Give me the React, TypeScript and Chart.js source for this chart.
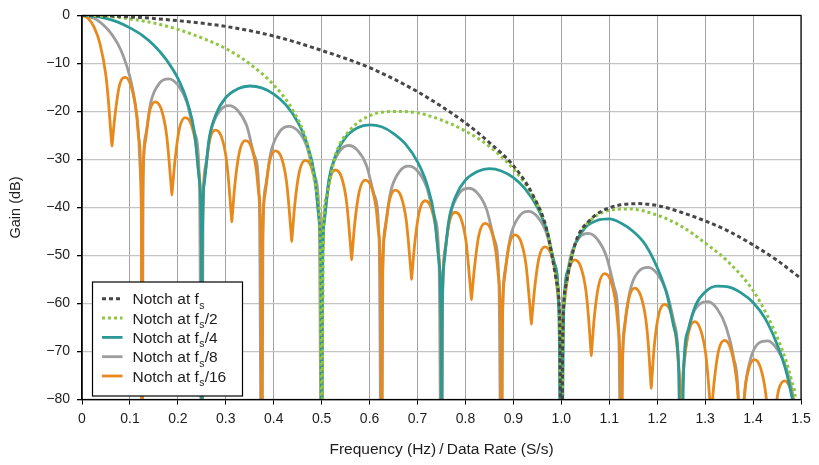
import React, { useEffect, useRef } from 'react';
import { Chart, registerables } from 'chart.js';

Chart.register(...registerables);

const FONT = '"Liberation Sans", Arial, Helvetica, sans-serif';
const TEXT = '#1e1c1d';

// Notch at fs
const fsFreq = [0, 0.1, 0.2, 0.3, 0.4, 0.5, 0.6, 0.7, 0.8, 0.85, 0.9, 0.94, 0.97, 0.99, 0.997, 1.0, 1.003, 1.01, 1.03, 1.06, 1.1, 1.16, 1.2, 1.25, 1.3, 1.35, 1.4, 1.45, 1.5];
const fsGain = [0, -0.3, -1.1, -2.3, -4.3, -7.3, -10.9, -15.9, -22.4, -26.5, -31.3, -37.3, -44.8, -55.5, -66, -110, -66.5, -56, -47.2, -42.6, -40.1, -39.2, -39.6, -41, -42.8, -45, -47.8, -51, -54.8];

// Notch at fs/2
const fs2Freq = [0, 0.05, 0.1, 0.15, 0.2, 0.25, 0.3, 0.35, 0.4, 0.44, 0.47, 0.49, 0.497, 0.5,
  0.503, 0.51, 0.53, 0.56, 0.6, 0.65, 0.7, 0.75, 0.8, 0.85, 0.9, 0.94, 0.97, 0.99, 0.997, 1.0,
  1.003, 1.01, 1.03, 1.06, 1.1, 1.14, 1.2, 1.25, 1.3, 1.35, 1.4, 1.43, 1.46, 1.48, 1.49, 1.5];
const fs2Gain = [0, -0.15, -0.75, -1.6, -2.9, -4.7, -6.9, -10.1, -14.5, -19.8, -26.7, -36.9, -47.6, -110,
  -47.8, -37.6, -28.7, -23.8, -20.9, -20.0, -20.3, -21.8, -24.1, -27.3, -32.0, -37.6, -44.7, -55.1, -65.8, -110,
  -66.1, -55.9, -47.3, -42.8, -40.6, -40.3, -41.6, -43.9, -47.4, -51.5, -57.3, -62.6, -69.5, -76.0, -82.0, -110];

// Notch at fs/4
const fs4Freq = [0, 0.025, 0.05, 0.075, 0.1, 0.125, 0.15, 0.175, 0.2, 0.22, 0.235, 0.245, 0.249, 0.25,
  0.251, 0.255, 0.265, 0.28, 0.3, 0.325, 0.35, 0.375, 0.4, 0.425, 0.45, 0.47, 0.485, 0.495, 0.499, 0.5,
  0.501, 0.505, 0.515, 0.53, 0.55, 0.575, 0.6, 0.625, 0.65, 0.675, 0.7, 0.72, 0.735, 0.745, 0.749, 0.75,
  0.751, 0.755, 0.765, 0.78, 0.8, 0.825, 0.85, 0.875, 0.9, 0.925, 0.95, 0.97, 0.985, 0.995, 1.0,
  1.005, 1.015, 1.03, 1.05, 1.075, 1.1, 1.125, 1.15, 1.175, 1.2, 1.22, 1.235, 1.245, 1.25,
  1.255, 1.265, 1.28, 1.3, 1.325, 1.35, 1.375, 1.4, 1.425, 1.45, 1.47, 1.48, 1.49, 1.5];
const fs4Gain = [0, -0.15, -0.6, -1.4, -2.6, -4.1, -6.2, -9.1, -13.1, -18.1, -24.6, -34.5, -48.7, -110,
  -48.8, -35.0, -25.8, -20.5, -17.1, -15.3, -14.7, -15.1, -16.4, -18.6, -22.2, -26.9, -33.2, -43.0, -57.0, -110,
  -57.2, -43.4, -34.3, -28.9, -25.4, -23.4, -22.8, -23.2, -24.6, -26.8, -30.5, -35.3, -41.8, -51.7, -65.8, -110,
  -66.0, -52.0, -42.9, -37.6, -34.3, -32.5, -31.9, -32.4, -33.8, -36.2, -40.0, -44.9, -51.4, -61.3, -110,
  -61.8, -52.7, -47.4, -44.2, -42.7, -42.4, -43.3, -45.0, -47.7, -52.5, -58.0, -65.0, -74.0, -110,
  -74.2, -65.4, -60.4, -57.6, -56.4, -56.6, -57.8, -59.8, -63.1, -68.5, -74.5, -79.0, -86.0, -110];

// Notch at fs/8
const fs8Freq = [0, 0.025, 0.05, 0.0625, 0.075, 0.0875, 0.1, 0.11, 0.1175, 0.1225, 0.1245, 0.125,
  0.1275, 0.1325, 0.14375, 0.1625, 0.18125, 0.2, 0.21875, 0.235, 0.245, 0.25,
  0.2525, 0.2575, 0.26875, 0.2875, 0.30625, 0.325, 0.34375, 0.36, 0.37, 0.375,
  0.3775, 0.3825, 0.39375, 0.4125, 0.43125, 0.45, 0.46875, 0.485, 0.495, 0.5,
  0.5025, 0.5075, 0.51875, 0.5375, 0.55625, 0.575, 0.59375, 0.61, 0.62, 0.625,
  0.6275, 0.6325, 0.64375, 0.6625, 0.68125, 0.7, 0.71875, 0.735, 0.745, 0.75,
  0.7525, 0.7575, 0.76875, 0.7875, 0.80625, 0.825, 0.84375, 0.86, 0.87, 0.875,
  0.8775, 0.8825, 0.89375, 0.9125, 0.93125, 0.95, 0.96875, 0.985, 0.995, 1.0,
  1.0025, 1.0075, 1.01875, 1.0375, 1.05625, 1.075, 1.09375, 1.11, 1.12, 1.125,
  1.1275, 1.1325, 1.14375, 1.1625, 1.18125, 1.2, 1.21875, 1.235, 1.245, 1.25,
  1.2525, 1.2575, 1.26875, 1.2875, 1.30625, 1.325, 1.34375, 1.36, 1.37, 1.375,
  1.3775, 1.3825, 1.39375, 1.4125, 1.43125, 1.45, 1.46875, 1.485, 1.495, 1.5];
const fs8Gain = [0, -0.6, -2.5, -4.0, -6.0, -8.8, -12.8, -17.7, -24.1, -34.0, -48.2, -110,
  -34.3, -25.1, -18.0, -14.0, -13.2, -14.5, -18.1, -24.6, -34.5, -110,
  -40.8, -31.5, -24.2, -19.9, -18.8, -19.8, -23.0, -29.3, -39.0, -110,
  -45.2, -35.9, -28.6, -24.2, -23.1, -24.0, -27.2, -33.4, -43.1, -110,
  -49.3, -39.9, -32.7, -28.3, -27.1, -28.1, -31.3, -37.5, -47.2, -110,
  -53.4, -44.0, -36.8, -32.5, -31.4, -32.4, -35.7, -41.9, -51.7, -110,
  -57.9, -48.6, -41.4, -37.0, -36.0, -37.0, -40.3, -46.6, -56.3, -110,
  -62.5, -53.2, -46.1, -41.8, -40.8, -41.9, -45.3, -51.6, -61.3, -110,
  -66.8, -57.6, -50.4, -46.3, -45.4, -46.6, -50.1, -56.5, -66.3, -110,
  -73.5, -64.2, -57.2, -53.2, -52.5, -53.8, -57.4, -63.9, -73.8, -110,
  -80.2, -71.0, -64.0, -60.2, -59.6, -61.1, -64.9, -71.5, -81.5, -110,
  -87.9, -78.8, -71.9, -68.2, -67.8, -69.5, -73.3, -80.2, -90.2, -110];

// Notch at fs/16
const fs16Freq = [0, 0.0125, 0.025, 0.0375, 0.05, 0.05625, 0.061, 0.0625,
  0.06375, 0.06875, 0.078125, 0.090625, 0.103125, 0.11375, 0.11875, 0.12375, 0.125,
  0.12625, 0.13125, 0.140625, 0.153125, 0.165625, 0.17625, 0.18125, 0.18625, 0.1875,
  0.18875, 0.19375, 0.203125, 0.215625, 0.228125, 0.23875, 0.24375, 0.24875, 0.25,
  0.25125, 0.25625, 0.265625, 0.278125, 0.290625, 0.30125, 0.30625, 0.31125, 0.3125,
  0.31375, 0.31875, 0.328125, 0.340625, 0.353125, 0.36375, 0.36875, 0.37375, 0.375,
  0.37625, 0.38125, 0.390625, 0.403125, 0.415625, 0.42625, 0.43125, 0.43625, 0.4375,
  0.43875, 0.44375, 0.453125, 0.465625, 0.478125, 0.48875, 0.49375, 0.49875, 0.5,
  0.50125, 0.50625, 0.515625, 0.528125, 0.540625, 0.55125, 0.55625, 0.56125, 0.5625,
  0.56375, 0.56875, 0.578125, 0.590625, 0.603125, 0.61375, 0.61875, 0.62375, 0.625,
  0.62625, 0.63125, 0.640625, 0.653125, 0.665625, 0.67625, 0.68125, 0.68625, 0.6875,
  0.68875, 0.69375, 0.703125, 0.715625, 0.728125, 0.73875, 0.74375, 0.74875, 0.75,
  0.75125, 0.75625, 0.765625, 0.778125, 0.790625, 0.80125, 0.80625, 0.81125, 0.8125,
  0.81375, 0.81875, 0.828125, 0.840625, 0.853125, 0.86375, 0.86875, 0.87375, 0.875,
  0.87625, 0.88125, 0.890625, 0.903125, 0.915625, 0.92625, 0.93125, 0.93625, 0.9375,
  0.93875, 0.94375, 0.953125, 0.965625, 0.978125, 0.98875, 0.99375, 0.99875, 1.0,
  1.00125, 1.00625, 1.015625, 1.028125, 1.040625, 1.05125, 1.05625, 1.06125, 1.0625,
  1.06375, 1.06875, 1.078125, 1.090625, 1.103125, 1.11375, 1.11875, 1.12375, 1.125,
  1.12625, 1.13125, 1.140625, 1.153125, 1.165625, 1.17625, 1.18125, 1.18625, 1.1875,
  1.18875, 1.19375, 1.203125, 1.215625, 1.228125, 1.23875, 1.24375, 1.24875, 1.25,
  1.25125, 1.25625, 1.265625, 1.278125, 1.290625, 1.30125, 1.30625, 1.31125, 1.3125,
  1.31375, 1.31875, 1.328125, 1.340625, 1.353125, 1.36375, 1.36875, 1.37375, 1.375,
  1.37625, 1.38125, 1.390625, 1.403125, 1.415625, 1.42625, 1.43125, 1.43625, 1.4375,
  1.43875, 1.44375, 1.453125, 1.465625, 1.478125, 1.48875, 1.49375, 1.49875, 1.5];
const fs16Gain = [0, -0.6, -2.4, -5.9, -12.6, -19.2, -25.6, -27.2,
  -25.9, -20.9, -14.6, -12.9, -15.0, -20.5, -25.8, -40.1, -110,
  -40.3, -26.8, -20.1, -18.0, -19.6, -24.7, -29.8, -35.9, -37.4,
  -36.0, -30.4, -23.6, -21.3, -22.8, -27.7, -32.7, -46.7, -110,
  -46.8, -33.2, -26.3, -23.9, -25.2, -30.0, -35.0, -41.4, -43.0,
  -41.5, -35.4, -28.6, -26.1, -27.4, -32.2, -37.1, -51.1, -110,
  -51.2, -37.6, -30.7, -28.2, -29.5, -34.3, -39.2, -45.5, -47.1,
  -45.6, -39.6, -32.7, -30.2, -31.5, -36.3, -41.2, -55.2, -110,
  -55.2, -41.6, -34.7, -32.2, -33.5, -38.3, -43.2, -49.4, -50.9,
  -49.5, -43.6, -36.8, -34.3, -35.6, -40.3, -45.3, -59.3, -110,
  -59.3, -45.7, -38.9, -36.4, -37.7, -42.5, -47.5, -53.5, -55.0,
  -53.6, -47.9, -41.1, -38.6, -40.0, -44.8, -49.8, -63.8, -110,
  -63.9, -50.3, -43.4, -41.0, -42.3, -47.1, -52.1, -57.8, -59.2,
  -57.9, -52.6, -45.7, -43.3, -44.6, -49.5, -54.4, -68.4, -110,
  -68.5, -54.9, -48.1, -45.7, -47.1, -51.9, -56.9, -62.8, -64.3,
  -62.9, -57.4, -50.6, -48.2, -49.6, -54.5, -59.5, -73.5, -110,
  -73.6, -60.0, -53.2, -50.9, -52.4, -57.3, -62.3, -69.2, -70.9,
  -69.3, -62.9, -56.1, -53.8, -55.3, -60.2, -65.3, -79.3, -110,
  -79.4, -65.9, -59.1, -56.8, -58.4, -63.3, -68.3, -75.8, -77.7,
  -76.0, -69.0, -62.3, -60.2, -61.8, -66.8, -71.9, -86.0, -110,
  -86.1, -72.6, -66.0, -63.8, -65.5, -70.5, -75.6, -81.9, -83.5,
  -82.1, -76.4, -69.8, -67.7, -69.4, -74.5, -79.6, -93.7, -110,
  -93.9, -80.4, -73.8, -71.7, -73.4, -78.6, -83.7, -89.5, -91.0,
  -89.7, -84.5, -78.1, -76.1, -77.9, -83.1, -88.3, -102.4, -110];

const legendSuffixes = ['', '/2', '/4', '/8', '/16'];
const xTitle = 'Frequency (Hz)\u2009/\u2009Data Rate (S/s)';
const yTitle = 'Gain (dB)';

function toPoints(xs: number[], ys: number[]) {
  return xs.map((x, i) => ({ x, y: ys[i] }));
}

export default function App() {
  const ref = useRef<HTMLCanvasElement>(null);

  useEffect(() => {
    const canvas = ref.current;
    if (!canvas) return;

    const series = [
      { label: 'Notch at fs', color: '#474747', dash: [4, 3], width: 3, xs: fsFreq, ys: fsGain, order: 0 },
      { label: 'Notch at fs/2', color: '#8dc63f', dash: [3, 3], width: 3, xs: fs2Freq, ys: fs2Gain, order: 1 },
      { label: 'Notch at fs/4', color: '#2a9a98', dash: [], width: 2.8, xs: fs4Freq, ys: fs4Gain, order: 2 },
      { label: 'Notch at fs/8', color: '#9d9d9d', dash: [], width: 2.8, xs: fs8Freq, ys: fs8Gain, order: 4 },
      { label: 'Notch at fs/16', color: '#e8891c', dash: [], width: 2.8, xs: fs16Freq, ys: fs16Gain, order: 3 },
    ];

    const framePlugin = {
      id: 'frameLegend',
      afterDatasetsDraw(chart: any) {
        const { ctx, chartArea: a } = chart;
        ctx.save();
        ctx.strokeStyle = '#000';
        ctx.lineWidth = 1.2;
        ctx.strokeRect(a.left, a.top, a.right - a.left, a.bottom - a.top);
        ctx.restore();
      },
      afterDraw(chart: any) {
        const { ctx, chartArea: a } = chart;
        const bx = a.left + 10.5;
        const by = a.bottom - 117.5;
        const bw = 150;
        const bh = 114;
        ctx.save();
        ctx.fillStyle = '#fff';
        ctx.fillRect(bx, by, bw, bh);
        ctx.strokeStyle = '#000';
        ctx.lineWidth = 1.2;
        ctx.strokeRect(bx, by, bw, bh);
        series.forEach((s, i) => {
          const cy = by + 16.8 + i * 19.3;
          ctx.beginPath();
          ctx.setLineDash(s.dash);
          ctx.strokeStyle = s.color;
          ctx.lineWidth = s.width;
          ctx.moveTo(bx + 9.5, cy);
          ctx.lineTo(bx + 30, cy);
          ctx.stroke();
          ctx.setLineDash([]);
          ctx.fillStyle = TEXT;
          ctx.textBaseline = 'alphabetic';
          ctx.textAlign = 'left';
          const base = cy + 5.5;
          let tx = bx + 40;
          ctx.font = `15.5px ${FONT}`;
          ctx.fillText('Notch at f', tx, base);
          tx += ctx.measureText('Notch at f').width + 0.3;
          ctx.font = `10.5px ${FONT}`;
          ctx.fillText('s', tx, base + 4.5);
          tx += ctx.measureText('s').width + 0.3;
          const suf = legendSuffixes[i];
          if (suf) {
            ctx.font = `15.5px ${FONT}`;
            ctx.fillText(suf, tx, base);
          }
        });
        ctx.restore();
      },
    };

    const chart = new Chart(canvas, {
      type: 'line',
      data: {
        datasets: series.map((s) => ({
          label: s.label,
          data: toPoints(s.xs, s.ys),
          borderColor: s.color,
          backgroundColor: s.color,
          borderWidth: s.width,
          borderDash: s.dash,
          borderCapStyle: 'butt',
          borderJoinStyle: 'round',
          pointRadius: 0,
          pointHoverRadius: 0,
          fill: false,
          tension: 0.4,
          cubicInterpolationMode: 'monotone',
          order: s.order,
        })),
      },
      options: {
        animation: false,
        responsive: false,
        events: [],
        layout: { padding: { top: 11, right: 18, left: 0, bottom: 0 } },
        plugins: {
          legend: { display: false },
          tooltip: { enabled: false },
        },
        scales: {
          x: {
            type: 'linear',
            min: 0,
            max: 1.5,
            ticks: {
              stepSize: 0.1,
              autoSkip: false,
              maxRotation: 0,
              padding: 6,
              color: TEXT,
              font: { family: FONT, size: 14 },
              callback: (v: any) => (Number(v) === 0 ? '0' : Number(v).toFixed(1)),
            },
            grid: { color: '#a3a3a3', lineWidth: 1, tickColor: '#000', tickLength: 5, drawTicks: true },
            border: { display: true, color: '#000', width: 1.2 },
            title: {
              display: true,
              text: xTitle,
              color: TEXT,
              font: { family: FONT, size: 15.5 },
              padding: { top: 0, bottom: 6 },
            },
            afterFit: (s: any) => {
              s.height = 65.5;
            },
          },
          y: {
            type: 'linear',
            min: -80,
            max: 0,
            ticks: {
              stepSize: 10,
              padding: 7,
              color: TEXT,
              font: { family: FONT, size: 14 },
              callback: (v: any) => (Number(v) === 0 ? '0' : '\u2212' + Math.abs(Number(v))),
            },
            grid: { color: '#c4c4c4', lineWidth: 1.3, tickColor: '#000', tickLength: 5, drawTicks: true },
            border: { display: true, color: '#000', width: 1.2 },
            title: {
              display: true,
              text: yTitle,
              color: TEXT,
              font: { family: FONT, size: 14.5 },
              padding: { top: 7, bottom: 0 },
            },
            afterFit: (s: any) => {
              s.width = 82;
            },
          },
        },
      } as any,
      plugins: [framePlugin],
    });

    return () => chart.destroy();
  }, []);

  return (
    <div style={{ position: 'absolute', left: 0, top: 0, width: 819, height: 465, background: '#fff' }}>
      <canvas ref={ref} width={819} height={465} style={{ display: 'block', width: 819, height: 465 }} />
    </div>
  );
}
